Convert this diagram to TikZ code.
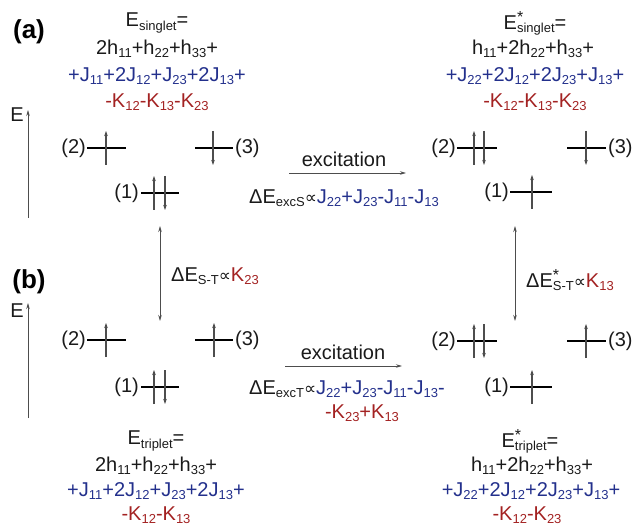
\documentclass[tikz,border=0pt]{standalone}
\usepackage{fontspec}
\setmainfont{Liberation Sans}
\newfontfamily\symf{DejaVu Sans}
\usetikzlibrary{arrows.meta}
\definecolor{tblue}{HTML}{23308C}
\definecolor{tred}{HTML}{A32222}
\definecolor{tblack}{HTML}{1A1A1A}
\definecolor{agray}{HTML}{4D4D4D}
\newcommand\lsub[1]{\raisebox{-0.16em}{\fontsize{13}{13}\selectfont #1}}
\newcommand\lstar{\rlap{\raisebox{7pt}{\fontsize{16}{16}\selectfont *}}}
\newcommand\prop{{\symf\fontsize{17}{17}\selectfont ∝}}
\begin{document}
\begin{tikzpicture}[x=1pt,y=-1pt,
  txt/.style={font=\fontsize{20}{24}\selectfont, text=tblack, inner sep=0pt},
  bl/.style={txt, text=tblue},
  rd/.style={txt, text=tred},
  tag/.style={font=\fontsize{26}{30}\selectfont\bfseries, text=black, inner sep=0pt},
  lvl/.style={line width=1.8pt, black},
  spin/.style={line width=1.1pt, agray, -{Stealth[length=5pt,width=3.5pt]}},
  garrow/.style={line width=0.8pt, agray, -{Stealth[length=6pt,width=3.5pt]}},
  darrow/.style={line width=0.8pt, agray, {Stealth[length=6pt,width=3.5pt]}-{Stealth[length=6pt,width=3.5pt]}}]
\useasboundingbox (0,0) rectangle (636,526);

% ---------- (a) ----------
\node[tag] (la) at (29,32) {(a)};
\coordinate (eab) at (28,218); \coordinate (eat) at (28,110);
\draw[garrow] (eab) -- (eat);
\node[txt] (Ea) at (17,115) {E};

\node[txt] (s1) at (157,23) {E\lsub{singlet}=};
\node[txt] (s2) at (157,49) {2h\lsub{11}+h\lsub{22}+h\lsub{33}+};
\node[bl]  (s3) at (157,76) {+J\lsub{11}+2J\lsub{12}+J\lsub{23}+2J\lsub{13}+};
\node[rd]  (s4) at (157,102) {-K\lsub{12}-K\lsub{13}-K\lsub{23}};

\node[txt] (ss1) at (535,23) {E\lstar\lsub{singlet}=};
\node[txt] (ss2) at (533,49) {h\lsub{11}+2h\lsub{22}+h\lsub{33}+};
\node[bl]  (ss3) at (535,76) {+J\lsub{22}+2J\lsub{12}+2J\lsub{23}+J\lsub{13}+};
\node[rd]  (ss4) at (535,102) {-K\lsub{12}-K\lsub{13}-K\lsub{23}};

% left orbitals (a)
\draw[lvl] (87,148) -- (126,148);
\draw[spin] (106,165) -- (106,131);
\node[txt,anchor=east] (a2) at (86,148) {(2)};
\draw[lvl] (195,148) -- (233,148);
\draw[spin] (213,131) -- (213,165);
\node[txt,anchor=west] (a3) at (235,148) {(3)};
\draw[lvl] (141,193) -- (179,193);
\draw[spin] (154,210) -- (154,176);
\draw[spin] (165,176) -- (165,210);
\node[txt,anchor=east] (a1) at (139,193) {(1)};

% excitation (a)
\node[txt] (exa) at (344,159) {excitation};
\coordinate (xa0) at (289,173); \coordinate (xa1) at (406,173);
\draw[garrow] (xa0) -- (xa1);
\node[txt,anchor=west] (dea) at (249,198) {ΔE\lsub{excS}\prop{\color{tblue}J\lsub{22}+J\lsub{23}-J\lsub{11}-J\lsub{13}}};

% right orbitals (a)
\draw[lvl] (457,148) -- (497,148);
\draw[spin] (474,165) -- (474,131);
\draw[spin] (484,131) -- (484,165);
\node[txt,anchor=east] (b2) at (456,148) {(2)};
\draw[lvl] (567,148) -- (606,148);
\draw[spin] (586,131) -- (586,165);
\node[txt,anchor=west] (b3) at (608,148) {(3)};
\draw[lvl] (510,192) -- (552,192);
\draw[spin] (532,209) -- (532,175);
\node[txt,anchor=east] (b1) at (509,192) {(1)};

% singlet-triplet gaps
\coordinate (g1t) at (160,226); \coordinate (g1b) at (160,321);
\draw[darrow] (g1t) -- (g1b);
\node[txt,anchor=west] (dst) at (171,276) {ΔE\lsub{S-T}\prop{\color{tred}K\lsub{23}}};
\coordinate (g2t) at (515,226); \coordinate (g2b) at (515,321);
\draw[darrow] (g2t) -- (g2b);
\node[txt,anchor=west] (dsts) at (526,280) {ΔE\lstar\lsub{S-T}\prop{\color{tred}K\lsub{13}}};

% ---------- (b) ----------
\node[tag] (lb) at (29,282) {(b)};
\coordinate (ebb) at (28,418); \coordinate (ebt) at (28,303);
\draw[garrow] (ebb) -- (ebt);
\node[txt] (Eb) at (17,311) {E};

% left orbitals (b)
\draw[lvl] (87,340) -- (126,340);
\draw[spin] (106,357) -- (106,323);
\node[txt,anchor=east] (c2) at (86,340) {(2)};
\draw[lvl] (195,340) -- (233,340);
\draw[spin] (214,357) -- (214,323);
\node[txt,anchor=west] (c3) at (235,340) {(3)};
\draw[lvl] (141,387) -- (179,387);
\draw[spin] (154,404) -- (154,370);
\draw[spin] (165,370) -- (165,404);
\node[txt,anchor=east] (c1) at (139,387) {(1)};

% excitation (b)
\node[txt] (exb) at (343,352) {excitation};
\coordinate (xb0) at (285,366); \coordinate (xb1) at (402,366);
\draw[garrow] (xb0) -- (xb1);
\node[txt,anchor=west] (deb) at (249,389) {ΔE\lsub{excT}\prop{\color{tblue}J\lsub{22}+J\lsub{23}-J\lsub{11}-J\lsub{13}-}};
\node[rd] (deb2) at (362,413) {-K\lsub{23}+K\lsub{13}};

% right orbitals (b)
\draw[lvl] (457,341) -- (497,341);
\draw[spin] (474,358) -- (474,324);
\draw[spin] (484,324) -- (484,358);
\node[txt,anchor=east] (d2) at (456,341) {(2)};
\draw[lvl] (567,341) -- (606,341);
\draw[spin] (586,358) -- (586,324);
\node[txt,anchor=west] (d3) at (608,341) {(3)};
\draw[lvl] (510,387) -- (552,387);
\draw[spin] (532,404) -- (532,370);
\node[txt,anchor=east] (d1) at (509,387) {(1)};

% triplet energies
\node[txt] (t1) at (156,441) {E\lsub{triplet}=};
\node[txt] (t2) at (156,466) {2h\lsub{11}+h\lsub{22}+h\lsub{33}+};
\node[bl]  (t3) at (156,491) {+J\lsub{11}+2J\lsub{12}+J\lsub{23}+2J\lsub{13}+};
\node[rd]  (t4) at (156,515) {-K\lsub{12}-K\lsub{13}};

\node[txt] (tt1) at (530,441) {E\lstar\lsub{triplet}=};
\node[txt] (tt2) at (532,466) {h\lsub{11}+2h\lsub{22}+h\lsub{33}+};
\node[bl]  (tt3) at (531,491) {+J\lsub{22}+2J\lsub{12}+2J\lsub{23}+J\lsub{13}+};
\node[rd]  (tt4) at (527,515) {-K\lsub{12}-K\lsub{23}};
\end{tikzpicture}
\end{document}
